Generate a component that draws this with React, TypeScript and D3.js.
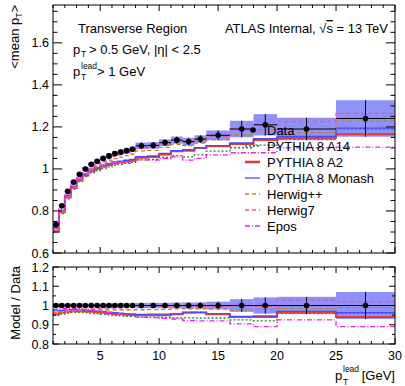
import * as d3 from "d3";

const W = 405;
const H = 386;
const FONT = "Liberation Sans, Arial, Helvetica, sans-serif";

// bin edges in p_T^lead [GeV]
const binEdges = [1, 1.5, 2, 2.5, 3, 3.5, 4, 4.5, 5, 5.5, 6, 6.5, 7, 7.5, 8, 9, 10, 11, 12, 13, 14, 16, 18, 20, 25, 30];

// <mean pT> of data in each bin
const dataMean = [0.735, 0.825, 0.893, 0.938, 0.974, 1.0, 1.022, 1.036, 1.05, 1.062, 1.073, 1.08, 1.087, 1.094,
  1.11, 1.112, 1.125, 1.137, 1.13, 1.142, 1.16, 1.19, 1.21, 1.19, 1.24];
// relative uncertainty of data
const dataRelErr = [0.01, 0.01, 0.01, 0.01, 0.01, 0.01, 0.01, 0.01, 0.01, 0.011, 0.011, 0.012, 0.012, 0.012,
  0.014, 0.014, 0.014, 0.015, 0.016, 0.016, 0.02, 0.033, 0.042, 0.045, 0.07];

// model / data ratios
const ratioA14 = [0.95, 0.955, 0.96, 0.964, 0.965, 0.963, 0.96, 0.957, 0.954, 0.951, 0.948, 0.946, 0.944, 0.943,
  0.94, 0.94, 0.938, 0.935, 0.936, 0.934, 0.935, 0.925, 0.92, 0.96, 0.96];
const ratioA2 = [0.955, 0.962, 0.968, 0.97, 0.97, 0.969, 0.967, 0.965, 0.962, 0.959, 0.956, 0.954, 0.952, 0.951,
  0.949, 0.95, 0.95, 0.954, 0.962, 0.963, 0.955, 0.94, 0.94, 0.965, 0.94];
const ratioMonash = [0.972, 0.975, 0.977, 0.978, 0.978, 0.976, 0.974, 0.971, 0.969, 0.966, 0.963, 0.96, 0.958, 0.956,
  0.954, 0.955, 0.955, 0.956, 0.966, 0.964, 0.958, 0.944, 0.946, 0.97, 0.963];
const ratioHerwigPP = [0.96, 0.965, 0.97, 0.972, 0.974, 0.976, 0.977, 0.978, 0.978, 0.978, 0.978, 0.978, 0.978, 0.978,
  0.978, 0.979, 0.98, 0.982, 0.983, 0.983, 0.981, 0.976, 0.98, 0.985, 0.99];
const ratioHerwig7 = [0.962, 0.968, 0.972, 0.975, 0.978, 0.98, 0.982, 0.984, 0.986, 0.987, 0.988, 0.988, 0.989, 0.99,
  0.99, 0.992, 0.995, 0.998, 1.0, 1.0, 0.995, 1.0, 0.997, 1.03, 1.02];
const ratioEpos = [0.98, 0.983, 0.985, 0.985, 0.983, 0.98, 0.976, 0.972, 0.968, 0.963, 0.958, 0.954, 0.95, 0.947,
  0.94, 0.937, 0.933, 0.93, 0.922, 0.92, 0.92, 0.905, 0.89, 0.925, 0.89];

const models = [
  { name: "PYTHIA 8 A14", ratio: ratioA14, color: "#1a8a1a", width: 1.3, dash: "2,2" },
  { name: "PYTHIA 8 A2", ratio: ratioA2, color: "#e33b3b", width: 2, dash: "" },
  { name: "PYTHIA 8 Monash", ratio: ratioMonash, color: "#4a4aff", width: 1.3, dash: "" },
  { name: "Herwig++", ratio: ratioHerwigPP, color: "#c0822a", width: 1.3, dash: "4,3" },
  { name: "Herwig7", ratio: ratioHerwig7, color: "#ff4f86", width: 1.3, dash: "4,3" },
  { name: "Epos", ratio: ratioEpos, color: "#f020f0", width: 1.3, dash: "5,2,1,2" },
];

const upperTicks = [0.6, 0.8, 1, 1.2, 1.4, 1.6];
const lowerTicks = [0.8, 0.9, 1, 1.1, 1.2];
const xTicks = [5, 10, 15, 20, 25, 30];

const left = 53, right = 395;
const upTop = 5, upBot = 253;
const loTop = 267, loBot = 344;

const x = d3.scaleLinear().domain([1, 30]).range([left, right]);
const yU = d3.scaleLinear().domain([0.6, 1.78]).range([upBot, upTop]);
const yL = d3.scaleLinear().domain([0.8, 1.2]).range([loBot, loTop]);

const bins = dataMean.map((v, i) => ({ lo: binEdges[i], hi: binEdges[i + 1], mid: (binEdges[i] + binEdges[i + 1]) / 2, v, e: dataRelErr[i] }));

function stepPath(vals: number[], y: d3.ScaleLinear<number, number>) {
  const pts: [number, number][] = [];
  vals.forEach((v, i) => {
    pts.push([binEdges[i], v]);
    pts.push([binEdges[i + 1], v]);
  });
  return d3.line<[number, number]>().x((d) => x(d[0])).y((d) => y(d[1]))(pts) || "";
}

function Frame({ top, bot, y, yTicks, yMinor, xMajor, xMinorLen, yMajorLen, yMinorLen }: any) {
  const minorX = d3.range(1, 31);
  return (
    <g stroke="#000" strokeWidth={1}>
      <rect x={left} y={top} width={right - left} height={bot - top} fill="none" />
      {minorX.map((t) => {
        const len = t % 5 === 0 ? xMajor : xMinorLen;
        return (
          <g key={"x" + t}>
            <line x1={x(t)} x2={x(t)} y1={bot} y2={bot - len} />
            <line x1={x(t)} x2={x(t)} y1={top} y2={top + len} />
          </g>
        );
      })}
      {yMinor.map((t: number) => {
        const major = yTicks.some((m: number) => Math.abs(m - t) < 1e-6);
        const len = major ? yMajorLen : yMinorLen;
        return (
          <g key={"y" + t}>
            <line x1={left} x2={left + len} y1={y(t)} y2={y(t)} />
            <line x1={right} x2={right - len} y1={y(t)} y2={y(t)} />
          </g>
        );
      })}
    </g>
  );
}

export default function App() {
  const upMinor = d3.range(0, 24).map((i) => +(0.6 + i * 0.05).toFixed(2));
  const loMinor = d3.range(0, 9).map((i) => +(0.8 + i * 0.05).toFixed(2));
  const band = "#9090fa";
  const legendY = (i: number) => 130 + 16 * i;

  return (
    <svg width={W} height={H} style={{ position: "absolute", left: 0, top: 0, background: "#fff" }} fontFamily={FONT}>
      <defs>
        <clipPath id="clipU"><rect x={left} y={upTop} width={right - left} height={upBot - upTop} /></clipPath>
        <clipPath id="clipL"><rect x={left} y={loTop} width={right - left} height={loBot - loTop} /></clipPath>
      </defs>

      {/* upper panel */}
      <g clipPath="url(#clipU)">
        {bins.map((b, i) => (
          <rect key={i} x={x(b.lo)} width={x(b.hi) - x(b.lo)} y={yU(b.v * (1 + b.e))} height={yU(b.v * (1 - b.e)) - yU(b.v * (1 + b.e))} fill={band} />
        ))}
        {models.map((m) => (
          <path key={m.name} d={stepPath(m.ratio.map((r, i) => r * dataMean[i]), yU)} fill="none" stroke={m.color} strokeWidth={m.width} strokeDasharray={m.dash} />
        ))}
        {bins.map((b, i) => (
          <g key={i} stroke="#000" strokeWidth={1}>
            <line x1={x(b.lo)} x2={x(b.hi)} y1={yU(b.v)} y2={yU(b.v)} />
            <line x1={x(b.mid)} x2={x(b.mid)} y1={yU(b.v * (1 + b.e))} y2={yU(b.v * (1 - b.e))} />
            <circle cx={x(b.mid)} cy={yU(b.v)} r={2.8} fill="#000" stroke="none" />
          </g>
        ))}
      </g>
      <Frame top={upTop} bot={upBot} y={yU} yTicks={upperTicks} yMinor={upMinor} xMajor={6} xMinorLen={3} yMajorLen={9} yMinorLen={4.5} />
      {upperTicks.map((t) => (
        <text key={t} x={49} y={yU(t)} dy="0.36em" textAnchor="end" fontSize={12.5}>{t}</text>
      ))}

      {/* lower panel */}
      <g clipPath="url(#clipL)">
        {bins.map((b, i) => (
          <rect key={i} x={x(b.lo)} width={x(b.hi) - x(b.lo)} y={yL(1 + b.e)} height={yL(1 - b.e) - yL(1 + b.e)} fill={band} />
        ))}
        {models.map((m) => (
          <path key={m.name} d={stepPath(m.ratio, yL)} fill="none" stroke={m.color} strokeWidth={m.width} strokeDasharray={m.dash} />
        ))}
        {bins.map((b, i) => (
          <g key={i} stroke="#000" strokeWidth={1}>
            <line x1={x(b.lo)} x2={x(b.hi)} y1={yL(1)} y2={yL(1)} />
            <line x1={x(b.mid)} x2={x(b.mid)} y1={yL(1 + b.e)} y2={yL(1 - b.e)} />
            <circle cx={x(b.mid)} cy={yL(1)} r={2.8} fill="#000" stroke="none" />
          </g>
        ))}
      </g>
      <Frame top={loTop} bot={loBot} y={yL} yTicks={lowerTicks} yMinor={loMinor} xMajor={6} xMinorLen={3} yMajorLen={6} yMinorLen={3} />
      {lowerTicks.map((t) => (
        <text key={t} x={49} y={yL(t)} dy="0.36em" textAnchor="end" fontSize={12.5}>{t}</text>
      ))}
      {xTicks.map((t) => (
        <text key={t} x={x(t)} y={360} textAnchor="middle" fontSize={12.5}>{t}</text>
      ))}

      {/* axis titles */}
      <g fontSize={13}>
        <text x={395} y={380} textAnchor="end">[GeV]</text>
        <text x={335} y={380}>p</text>
        <text x={343} y={372} fontSize={8.5}>lead</text>
        <text x={343} y={385} fontSize={8.5}>T</text>
        <text transform="translate(19,5) rotate(-90)" textAnchor="end">
          {"<mean p"}<tspan fontSize={8.5} dy={3}>T</tspan><tspan dy={-3}>{">"}</tspan>
        </text>
        <text transform="translate(20,266) rotate(-90)" textAnchor="end">Model / Data</text>
      </g>

      {/* labels */}
      <g fontSize={13}>
        <text x={78} y={33}>Transverse Region</text>
        <text x={388} y={33} textAnchor="end">
          ATLAS Internal, √<tspan style={{ textDecoration: "overline" }}>s</tspan> = 13 TeV
        </text>
        <text x={73} y={54}>p</text>
        <text x={81} y={57} fontSize={8.5}>T</text>
        <text x={89} y={54}>{"> 0.5 GeV, |η| < 2.5"}</text>
        <text x={73} y={76}>p</text>
        <text x={81} y={69} fontSize={8.5}>lead</text>
        <text x={81} y={80} fontSize={8.5}>T</text>
        <text x={97} y={76}>{"> 1 GeV"}</text>
      </g>

      {/* legend */}
      <g fontSize={13}>
        <circle cx={253} cy={legendY(0)} r={2.8} fill="#000" />
        <text x={267} y={legendY(0)} dy="0.36em">Data</text>
        {models.map((m, i) => (
          <g key={m.name}>
            <line x1={245} x2={260} y1={legendY(i + 1)} y2={legendY(i + 1)} stroke={m.color} strokeWidth={m.width === 2 ? 2.6 : m.width} strokeDasharray={m.dash} />
            <text x={267} y={legendY(i + 1)} dy="0.36em">{m.name}</text>
          </g>
        ))}
      </g>
    </svg>
  );
}
